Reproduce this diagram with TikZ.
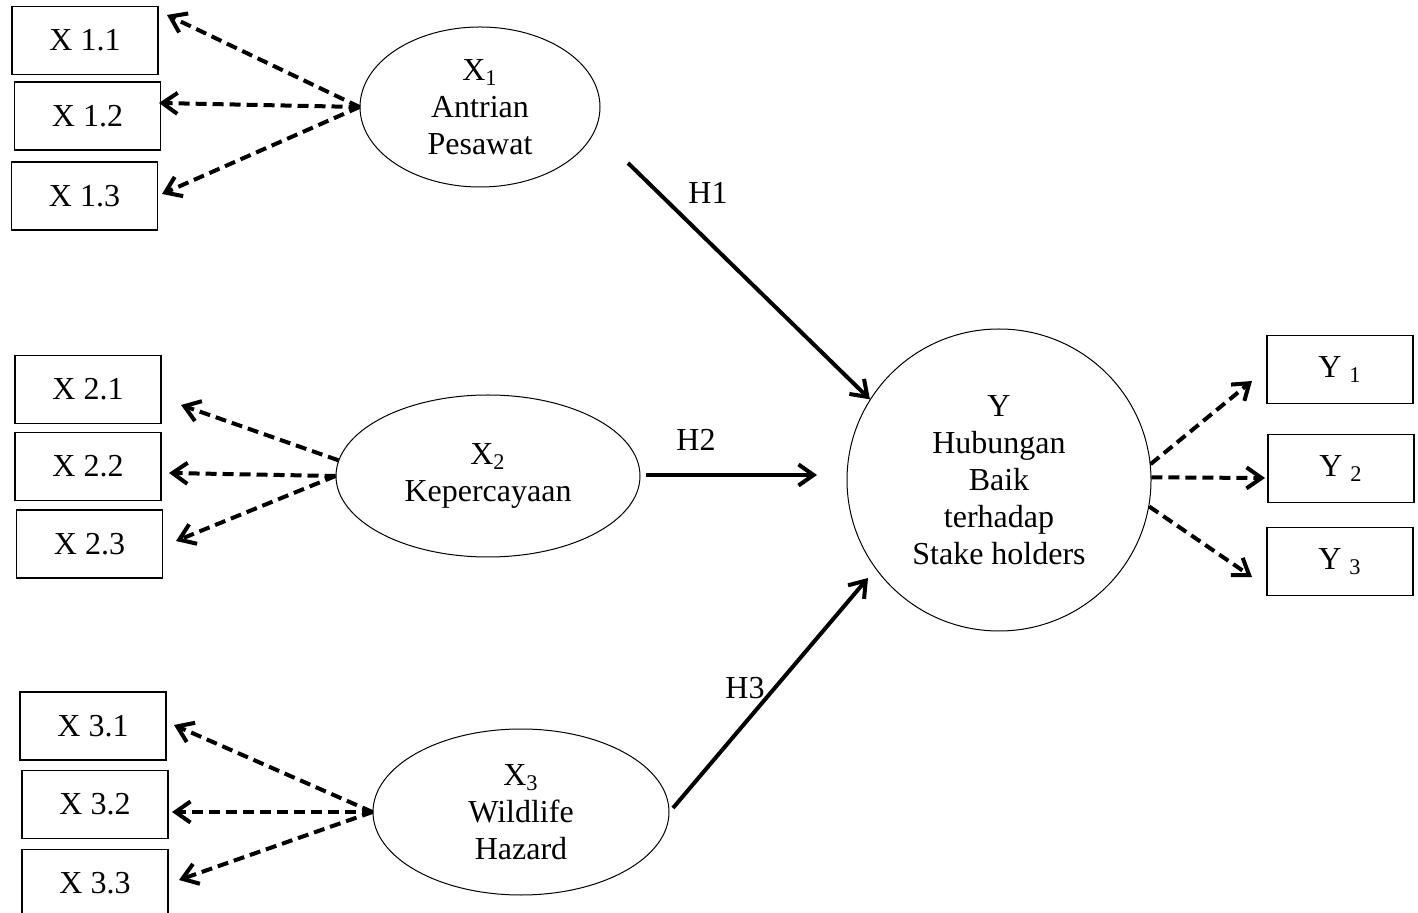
\documentclass[tikz,border=0pt]{standalone}
\usepackage{fontspec}
\setmainfont{Liberation Serif}
\usetikzlibrary{arrows.meta,shapes.geometric}
\begin{document}
\begin{tikzpicture}[x=0.5pt,y=-0.5pt,
  ind/.style={draw,line width=0.6pt,minimum width=73pt,minimum height=34pt,inner sep=0pt,font=\fontsize{16}{18}\selectfont},
  lat/.style={draw,ellipse,line width=0.5pt,inner sep=0pt,align=center,font=\fontsize{16}{18.5}\selectfont},
  load/.style={line width=2pt,dash pattern=on 5.5pt off 3pt,-{Straight Barb[length=7.5pt,width=10.5pt]}},
  hyp/.style={line width=2pt,-{Straight Barb[length=7.5pt,width=10.5pt]}},
  lbl/.style={inner sep=0pt,font=\fontsize{16}{18}\selectfont}
]
\useasboundingbox (0,0) rectangle (1418,913);
% indicator boxes
\node[ind] (x11) at (85,40.5) {X 1.1};
\node[ind] (x12) at (87.5,116) {X 1.2};
\node[ind] (x13) at (84.5,196) {X 1.3};
\node[ind] (x21) at (88,389.5) {X 2.1};
\node[ind] (x22) at (88,466.5) {X 2.2};
\node[ind] (x23) at (89.5,544) {X 2.3};
\node[ind] (x31) at (93,726) {X 3.1};
\node[ind] (x32) at (95,804.5) {X 3.2};
\node[ind] (x33) at (95,883.5) {X 3.3};
\node[ind] (y1) at (1340,369.5) {Y \textsubscript{1}};
\node[ind] (y2) at (1341,468.5) {Y \textsubscript{2}};
\node[ind] (y3) at (1340,561.5) {Y \textsubscript{3}};
% latent variables
\node[lat,minimum width=120pt,minimum height=80pt] (x1) at (480,107) {X\textsubscript{1}\\Antrian\\Pesawat};
\node[lat,minimum width=152pt,minimum height=81pt] (x2) at (488,476) {X\textsubscript{2}\\Kepercayaan};
\node[lat,minimum width=148pt,minimum height=83pt] (x3) at (521,812) {X\textsubscript{3}\\Wildlife\\Hazard};
\node[lat,minimum width=152pt,minimum height=151pt] (y) at (999,480) {Y\\Hubungan\\Baik\\terhadap\\Stake holders};
% arrow tips near boxes
\coordinate (t11) at (167,15);
\coordinate (t12) at (159,103);
\coordinate (t13) at (162,194);
\coordinate (t21) at (181,405);
\coordinate (t22) at (169,473);
\coordinate (t23) at (176,541);
\coordinate (t31) at (174,725);
\coordinate (t32) at (172,812);
\coordinate (t33) at (179,880);
\coordinate (ty1) at (1252,381);
\coordinate (ty2) at (1265,478);
\coordinate (ty3) at (1252,577);
% loadings
\draw[load] (x1.west) -- (t11);
\draw[load] (x1.west) -- (t12);
\draw[load] (x1.west) -- (t13);
\draw[load] (x2.174) -- (t21);
\draw[load] (x2.west) -- (t22);
\draw[load] (x2.west) -- (t23);
\draw[load] (x3.west) -- (t31);
\draw[load] (x3.west) -- (t32);
\draw[load] (x3.west) -- (t33);
\draw[load] (y.6) -- (ty1);
\draw[load] (y.1) -- (ty2);
\draw[load] (y.-10) -- (ty3);
% hypotheses
\coordinate (h1s) at (628,163);
\coordinate (h2s) at (646,475);
\coordinate (h2e) at (817,475);
\coordinate (h3s) at (673,808);
\coordinate (h3e) at (868,578);
\draw[hyp] (h1s) -- (y.148.6);
\draw[hyp] (h2s) -- (h2e);
\draw[hyp] (h3s) -- (h3e);
\node[lbl] (lh1) at (708,193) {H1};
\node[lbl] (lh2) at (696,440) {H2};
\node[lbl] (lh3) at (745,688) {H3};
\end{tikzpicture}
\end{document}
